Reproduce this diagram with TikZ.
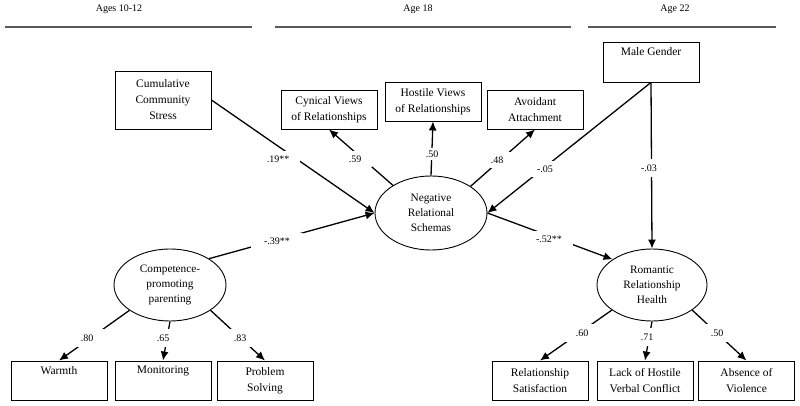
\documentclass[tikz,border=0pt]{standalone}
\usepackage{fontspec}
\setmainfont{Liberation Serif}
\usetikzlibrary{arrows.meta,shapes.geometric}
\begin{document}
\begin{tikzpicture}[x=1pt,y=-1pt,
  box/.style={draw=black,line width=0.9pt,rectangle,minimum width=96pt,minimum height=39pt,inner sep=0pt,align=center,font=\fontsize{11.5}{16}\selectfont},
  lat/.style={draw=black,line width=0.9pt,ellipse,inner sep=0pt,align=center,font=\fontsize{11.3}{15}\selectfont},
  conn/.style={draw=black,line width=1.3pt,-{Latex[length=9pt,width=8pt]}},
  plain/.style={draw=black,line width=1.3pt},
  lab/.style={fill=white,inner xsep=11pt,inner ysep=5pt,font=\fontsize{10}{12}\selectfont},
  hdr/.style={font=\fontsize{10}{12}\selectfont,inner sep=0pt},
  hline/.style={draw=black!65,line width=1.3pt}]
\useasboundingbox (0,0) rectangle (800,406);
% headers
\node[hdr] (h1) at (119,9) {Ages 10-12};
\node[hdr] (h2) at (418,9) {Age 18};
\node[hdr] (h3) at (675,9) {Age 22};
\coordinate (a1) at (5,27); \coordinate (b1) at (252,27);
\coordinate (a2) at (275,27); \coordinate (b2) at (571,27);
\coordinate (a3) at (588,27); \coordinate (b3) at (776,27);
\draw[hline] (a1) -- (b1);
\draw[hline] (a2) -- (b2);
\draw[hline] (a3) -- (b3);
% boxes
\node[box,minimum height=58pt] (cum) at (163,100) {Cumulative\\Community\\Stress};
\node[box] (cyn) at (329,109.5) {Cynical Views\\of Relationships};
\node[box] (hos) at (433,101.5) {Hostile Views\\of Relationships};
\node[box] (avo) at (535,109.5) {Avoidant\\Attachment};
\node[box,minimum height=40pt] (male) at (651,62) {Male Gender\\\strut};
\node[box] (warm) at (59,380.5) {Warmth\\\strut};
\node[box] (mon) at (163,380.5) {Monitoring\\\strut};
\node[box] (prob) at (265,380.5) {Problem\\Solving};
\node[box] (rsat) at (540,380.5) {Relationship\\Satisfaction};
\node[box] (lack) at (645,380.5) {Lack of Hostile\\Verbal Conflict};
\node[box] (abs) at (746.5,380.5) {Absence of\\Violence};
% latent
\node[lat,minimum width=112pt,minimum height=74pt] (nrs) at (431,213) {Negative\\Relational\\Schemas};
\node[lat,minimum width=112pt,minimum height=72pt] (cpp) at (170,285) {Competence-\\promoting\\parenting};
\node[lat,minimum width=110pt,minimum height=72pt] (rrh) at (652,285) {Romantic\\Relationship\\Health};
% connectors
\draw[conn] (cum.east) -- (nrs.west);
\draw[conn] (cpp.34) -- (nrs.west);
\draw[conn] (nrs.144) -- (cyn.south);
\draw[conn] (nrs.north) -- (hos.south);
\draw[conn] (nrs.34) -- (avo.south);
\draw[conn] (male.south) -- (nrs.east);
\draw[conn] (male.south) -- (rrh.north);
\draw[conn] (nrs.east) -- (rrh.147);
\draw[conn] (cpp.212) -- (warm.north);
\draw[conn] (cpp.south) -- (mon.north);
\draw[conn] (cpp.328) -- (prob.north);
\draw[conn] (rrh.212) -- (rsat.north);
\draw[conn] (rrh.south) -- (lack.north);
\draw[conn] (rrh.328) -- (abs.north);
% labels
\node[lab] (l19) at (278,159) {.19**};
\node[lab] (l59) at (355,159) {.59};
\node[lab,inner ysep=3pt] (l50a) at (432,154) {.50};
\node[lab] (l48) at (497,160) {.48};
\node[lab] (l05) at (545,169) {-.05};
\node[lab,inner ysep=6pt] (l03) at (649,168) {-.03};
\node[lab,inner xsep=13pt] (l39) at (277,241) {-.39**};
\node[lab] (l52) at (549,239) {-.52**};
\node[lab,inner ysep=6pt] (l80) at (87,338) {.80};
\node[lab,inner ysep=6pt] (l65) at (163,338) {.65};
\node[lab,inner ysep=6pt] (l83) at (240,338) {.83};
\node[lab,inner ysep=6pt] (l60) at (582,333) {.60};
\node[lab,inner ysep=6pt] (l71) at (647,337) {.71};
\node[lab,inner ysep=6pt] (l50b) at (717,333) {.50};
\end{tikzpicture}
\end{document}
